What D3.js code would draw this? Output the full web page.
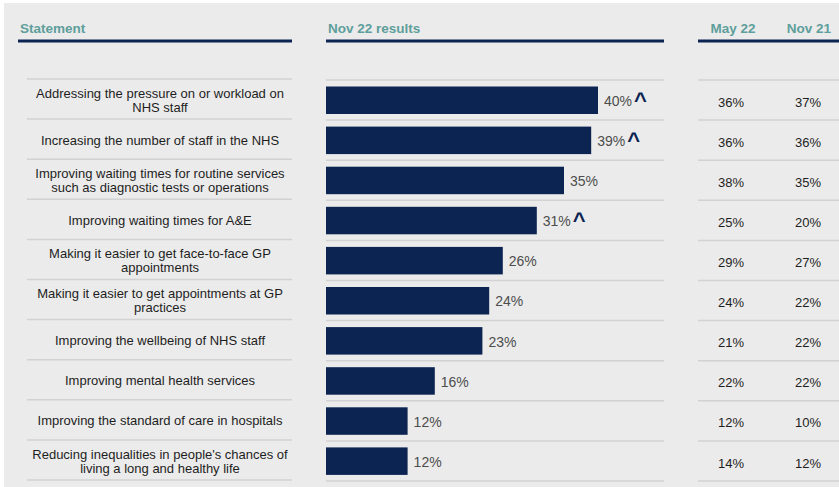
<!DOCTYPE html>
<html lang="en">
<head>
    <meta charset="UTF-8">
    <title>NHS priorities - Nov 22 results</title>
    <script src="https://d3js.org/d3.v7.min.js"></script>
    <style>
        body { margin: 0; background: #ffffff; }
        svg { display: block; font-family: "Liberation Sans", Arial, sans-serif; }
    </style>
</head>
<body>
    <div id="chart"></div>

    <script>
        // Datos
        const statements = [
            ["Addressing the pressure on or workload on", "NHS  staff"],
            ["Increasing the number of staff in the NHS"],
            ["Improving waiting times for routine services", "such as diagnostic tests or operations"],
            ["Improving waiting times for A&E"],
            ["Making it easier to get face-to-face GP", "appointments"],
            ["Making it easier to get appointments at GP", "practices"],
            ["Improving the wellbeing of NHS  staff"],
            ["Improving mental health services"],
            ["Improving the standard of care in hospitals"],
            ["Reducing inequalities in people's chances of", "living a long and healthy life"]
        ];
        const nov22 = [40, 39, 35, 31, 26, 24, 23, 16, 12, 12];
        const may22 = [36, 36, 38, 25, 29, 24, 21, 22, 12, 14];
        const nov21 = [37, 36, 35, 20, 27, 22, 22, 22, 10, 12];
        const sigUp = [true, true, false, true, false, false, false, false, false, false];
        const headers = ["Statement", "Nov 22 results", "May 22", "Nov 21"];

        const W = 839, H = 487;
        const navy = "#0c2452", teal = "#5e9e9b", rule = "#d2d2d2";

        const svg = d3.select("#chart").append("svg")
            .attr("width", W)
            .attr("height", H);

        // fondo
        svg.append("rect").attr("x", 4).attr("y", 3).attr("width", W - 4).attr("height", H - 3)
            .attr("fill", "#ebebeb");

        // Escalas
        const idx = d3.range(statements.length);
        const y = d3.scaleBand().domain(idx).range([79, 480]);
        const x = d3.scaleLinear().domain([0, 50]).range([326, 666]);

        // Cabeceras
        const hdr = svg.append("g").attr("font-weight", "bold").attr("font-size", 13.5).attr("fill", teal);
        hdr.append("text").attr("x", 20).attr("y", 33).text(headers[0]);
        hdr.append("text").attr("x", 328).attr("y", 33).text(headers[1]);
        hdr.append("text").attr("x", 733).attr("y", 33).attr("text-anchor", "middle").text(headers[2]);
        hdr.append("text").attr("x", 809).attr("y", 33).attr("text-anchor", "middle").text(headers[3]);

        const cols = [[18, 292], [326, 664], [698, 839]];
        svg.selectAll(".hline").data(cols).enter().append("line")
            .attr("class", "hline")
            .attr("x1", d => d[0]).attr("x2", d => d[1])
            .attr("y1", 41).attr("y2", 41)
            .attr("stroke", navy).attr("stroke-width", 3);

        // Lineas de filas
        const rowCols = [[27, 292, 0], [326, 664, 1], [698, 839, 1]];
        const bounds = idx.map(i => y(i)).concat([y.range()[1]]);
        rowCols.forEach(c => {
            svg.append("g").selectAll("line").data(bounds).enter().append("line")
                .attr("x1", c[0]).attr("x2", c[1])
                .attr("y1", d => d + c[2]).attr("y2", d => d + c[2])
                .attr("stroke", rule).attr("stroke-width", 1.5);
        });

        // Etiquetas de enunciados
        const lab = svg.append("g").attr("font-size", 13).attr("fill", "#1e1e1e").attr("text-anchor", "middle");
        statements.forEach((lines, i) => {
            const cy = y(i) + y.bandwidth() / 2 + 1;
            const t = lab.append("text").attr("x", 160).attr("y", cy - (lines.length - 1) * 7).attr("dy", "0.35em");
            lines.forEach((s, j) => {
                t.append("tspan").attr("x", 160).attr("dy", j === 0 ? "0.35em" : 14).text(s);
            });
        });

        // Barras
        svg.selectAll(".bar").data(nov22).enter().append("rect")
            .attr("class", "bar")
            .attr("x", x(0))
            .attr("y", (d, i) => y(i) + 7.5)
            .attr("width", d => x(d) - x(0))
            .attr("height", 27.5)
            .attr("fill", navy);

        svg.selectAll(".val").data(nov22).enter().append("text")
            .attr("class", "val")
            .attr("x", d => x(d) + 6)
            .attr("y", (d, i) => y(i) + y.bandwidth() / 2 + 2)
            .attr("dy", "0.35em")
            .attr("font-size", 14)
            .attr("fill", "#4d4d4d")
            .text(d => d + "%");

        // Indicador de cambio significativo
        svg.selectAll(".up").data(nov22.map((d, i) => ({ v: d, i: i })).filter(d => sigUp[d.i]))
            .enter().append("text")
            .attr("class", "up")
            .attr("x", d => x(d.v) + 36)
            .attr("y", d => y(d.i) + y.bandwidth() / 2 + 9)
            .attr("font-size", 22)
            .attr("font-weight", "bold")
            .attr("fill", navy)
            .text("^");

        // Columnas de comparacion
        const cmp = svg.append("g").attr("font-size", 13).attr("fill", "#1e1e1e").attr("text-anchor", "middle");
        [[may22, 731], [nov21, 808]].forEach(c => {
            cmp.selectAll(null).data(c[0]).enter().append("text")
                .attr("x", c[1])
                .attr("y", (d, i) => y(i) + y.bandwidth() / 2 + 3)
                .attr("dy", "0.35em")
                .text(d => d + "%");
        });
    </script>
</body>
</html>
